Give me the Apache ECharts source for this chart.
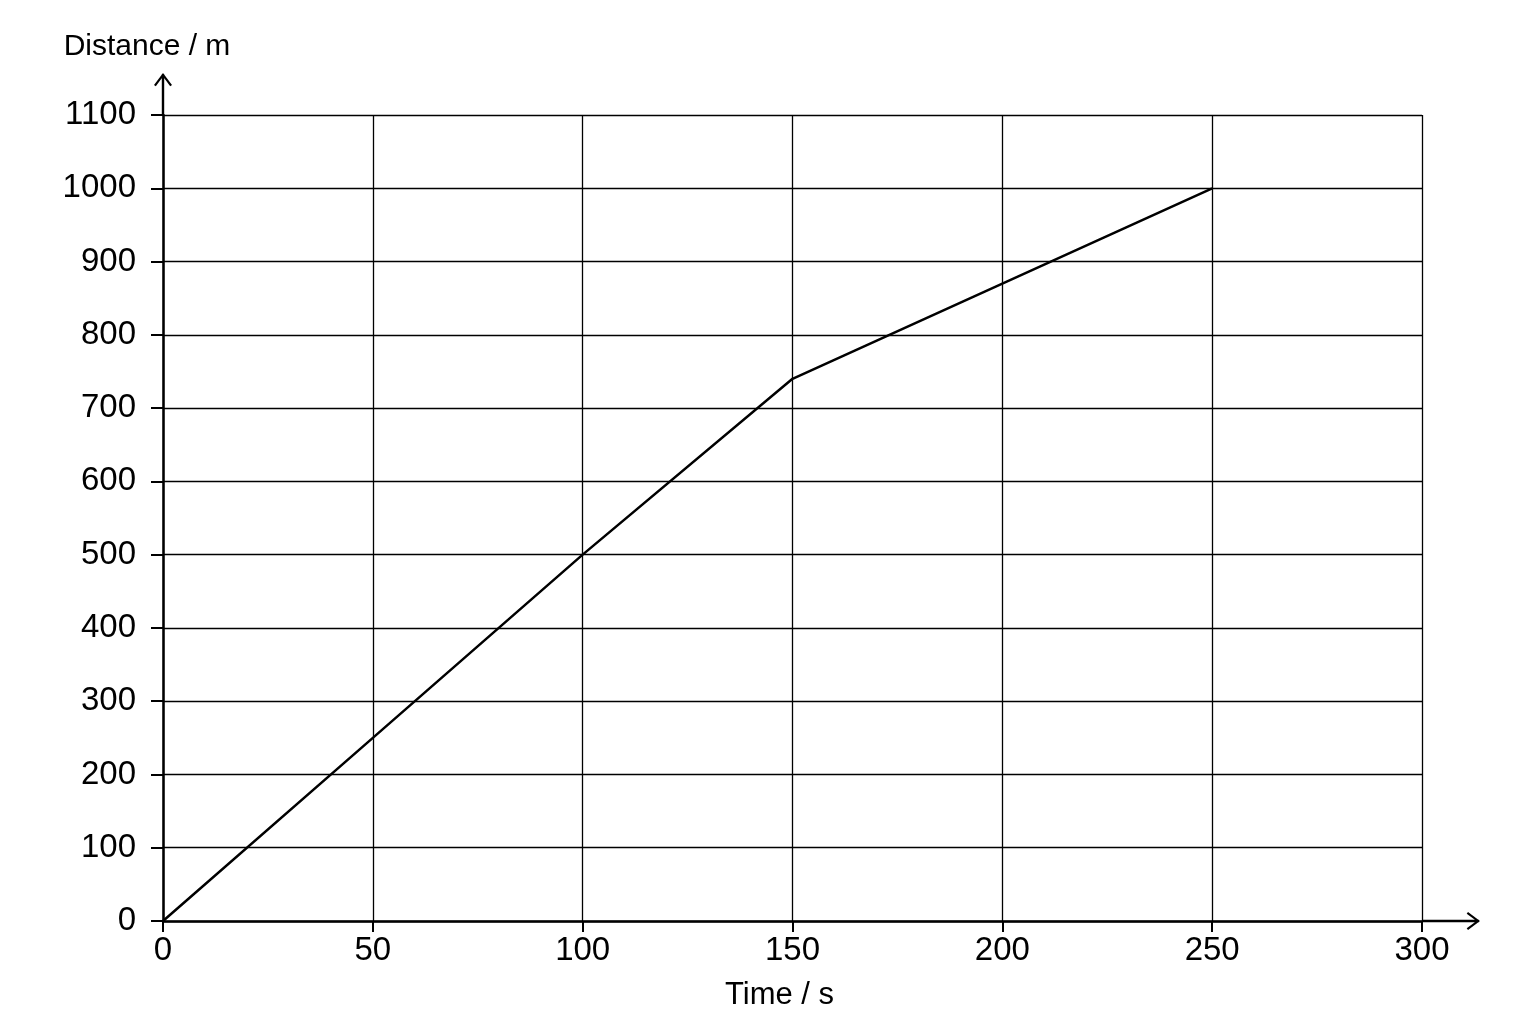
<!DOCTYPE html>
<html>
<head>
<meta charset="utf-8">
<script src="https://cdn.jsdelivr.net/npm/echarts@6/dist/echarts.min.js"></script>
<style>
  html, body { margin: 0; padding: 0; background: #ffffff; }
  #chart { width: 1536px; height: 1024px; }
</style>
</head>
<body>
<div id="chart"></div>
<script>
// distance-time graph: a faster stretch then a slower one after 150 s
const timeS = [0, 50, 100, 150, 250]
const distanceM = [0, 250, 500, 740, 1000]

const xTicks = { min: 0, max: 300, step: 50 }
const yTicks = { min: 0, max: 1100, step: 100 }

const FONT = '"Liberation Sans", Arial, sans-serif'

// open-headed arrow with a shaft, as a filled path (axis symbols are filled,
// not stroked). Tip points "up" in symbol space; echarts rotates it outward.
function arrowPath(len) {
  return 'path://' +
    'M7.8 1 L7.8 ' + len + ' L10.2 ' + len + ' L10.2 1 Z ' +
    'M9 0 L0 12 L1.8 13.3 L9 3.4 Z ' +
    'M9 0 L9 3.4 L16.2 13.3 L18 12 Z'
}

function axisLine(len) {
  return {
    show: true,
    symbol: ['none', arrowPath(len)],
    symbolSize: [18, len],
    symbolOffset: [0, len / 2],
    lineStyle: { color: '#000', width: 2.5 }
  }
}

function plain(v) { return String(v) }

const chart = echarts.init(document.getElementById('chart'))
chart.setOption({
  backgroundColor: '#ffffff',
  animation: false,
  grid: { left: 163, right: 114, top: 115, bottom: 103, containLabel: false },
  xAxis: {
    type: 'value',
    min: xTicks.min, max: xTicks.max, interval: xTicks.step,
    name: 'Time / s',
    nameLocation: 'middle',
    nameGap: 59,
    nameTextStyle: { color: '#000', fontSize: 31, fontFamily: FONT, padding: [0, 26, 0, 0] },
    axisLine: axisLine(58),
    axisTick: { show: true, length: 11, lineStyle: { color: '#000', width: 2 } },
    axisLabel: { color: '#000', fontSize: 33, fontFamily: FONT, margin: 13, formatter: plain },
    splitLine: { show: true, lineStyle: { color: '#000', width: 1.3 } }
  },
  yAxis: {
    type: 'value',
    min: yTicks.min, max: yTicks.max, interval: yTicks.step,
    name: 'Distance / m',
    nameLocation: 'end',
    nameGap: 53,
    nameTextStyle: { color: '#000', fontSize: 30, fontFamily: FONT, align: 'center', padding: [0, 32, 0, 0] },
    axisLine: axisLine(42),
    axisTick: { show: true, length: 12, lineStyle: { color: '#000', width: 2 } },
    axisLabel: { color: '#000', fontSize: 33, fontFamily: FONT, margin: 27, formatter: plain },
    splitLine: { show: true, lineStyle: { color: '#000', width: 1.3 } }
  },
  series: [{
    type: 'line',
    data: timeS.map(function (t, i) { return [t, distanceM[i]] }),
    symbol: 'none',
    lineStyle: { color: '#000', width: 2.5 },
    z: 5
  }]
})
</script>
</body>
</html>
